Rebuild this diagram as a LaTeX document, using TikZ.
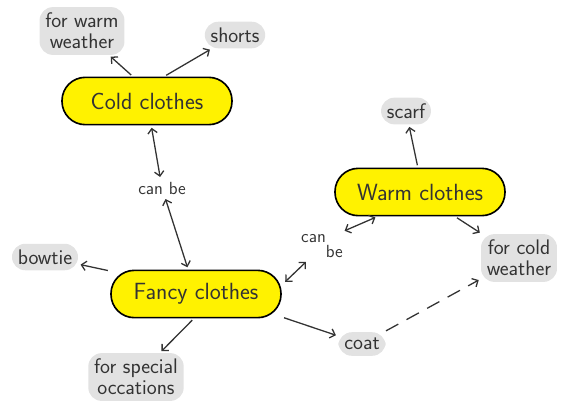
\documentclass[tikz,border=0pt]{standalone}
\usepackage{tikz}
\usetikzlibrary{arrows,arrows.meta}

\definecolor{hiyellow}{HTML}{FFF200}
\definecolor{notegray}{HTML}{E2E2E2}
\definecolor{inkgray}{HTML}{333333}

\begin{document}
\begin{tikzpicture}[x=0.03cm,y=-0.03cm,>={Straight Barb[length=4pt,width=8pt]},
    every node/.style={font=\sffamily,text=inkgray},
    topic/.style={draw=black,fill=hiyellow,line width=1.4pt,rounded corners=0.7cm,
        minimum width=5.1cm,minimum height=1.42cm,font=\sffamily\fontsize{20}{22}\selectfont},
    note/.style={fill=notegray,rounded corners=0.4cm,inner sep=5pt,align=center,
        font=\sffamily\fontsize{18}{18}\selectfont},
    link/.style={font=\sffamily\fontsize{15}{16}\selectfont,inner sep=2pt},
    edge/.style={draw=inkgray,line width=1.1pt,->,shorten >=2pt,shorten <=2pt}]
\useasboundingbox (0,0) rectangle (573,408);
% main topics
\node[topic] (cold) at (147,101) {Cold clothes};
\node[topic] (warm) at (420,192) {Warm clothes};
\node[topic] (fancy) at (196,294) {Fancy clothes};
% notes
\node[note] (warmw) at (82,31) {for warm\\weather};
\node[note] (shorts) at (235,35) {shorts};
\node[note] (scarf) at (406,111) {scarf};
\node[note] (coldw) at (519,258) {for cold\\weather};
\node[note] (bowtie) at (45,257) {bowtie};
\node[note] (special) at (136,377) {for special\\occations};
\node[note] (coat) at (362,344) {coat};
% link labels
\node[link] (canA) at (162,188) {can be};
\node[link,align=left] (canB) at (322,246) {can\\[-3pt]\hspace{1.4em}be};
% connectors
\draw[edge] (cold.120) -- (warmw);
\draw[edge] (cold.55) -- (shorts);
\draw[edge,<->] (cold) -- (canA);
\draw[edge,<->] (canA) -- (fancy);
\draw[edge,<->,shorten <=4pt] (fancy.6) -- (canB.225);
\draw[edge,<->] (canB.35) -- (warm.210);
\draw[edge] (warm.95) -- (scarf);
\draw[edge] (warm.-35) -- (coldw);
\draw[edge] (fancy.165) -- (bowtie);
\draw[edge] (fancy.-95) -- (special);
\draw[edge] (fancy.-15) -- (coat);
\draw[edge,dashed,dash pattern=on 12pt off 8pt] (coat) -- (coldw);
\end{tikzpicture}
\end{document}
